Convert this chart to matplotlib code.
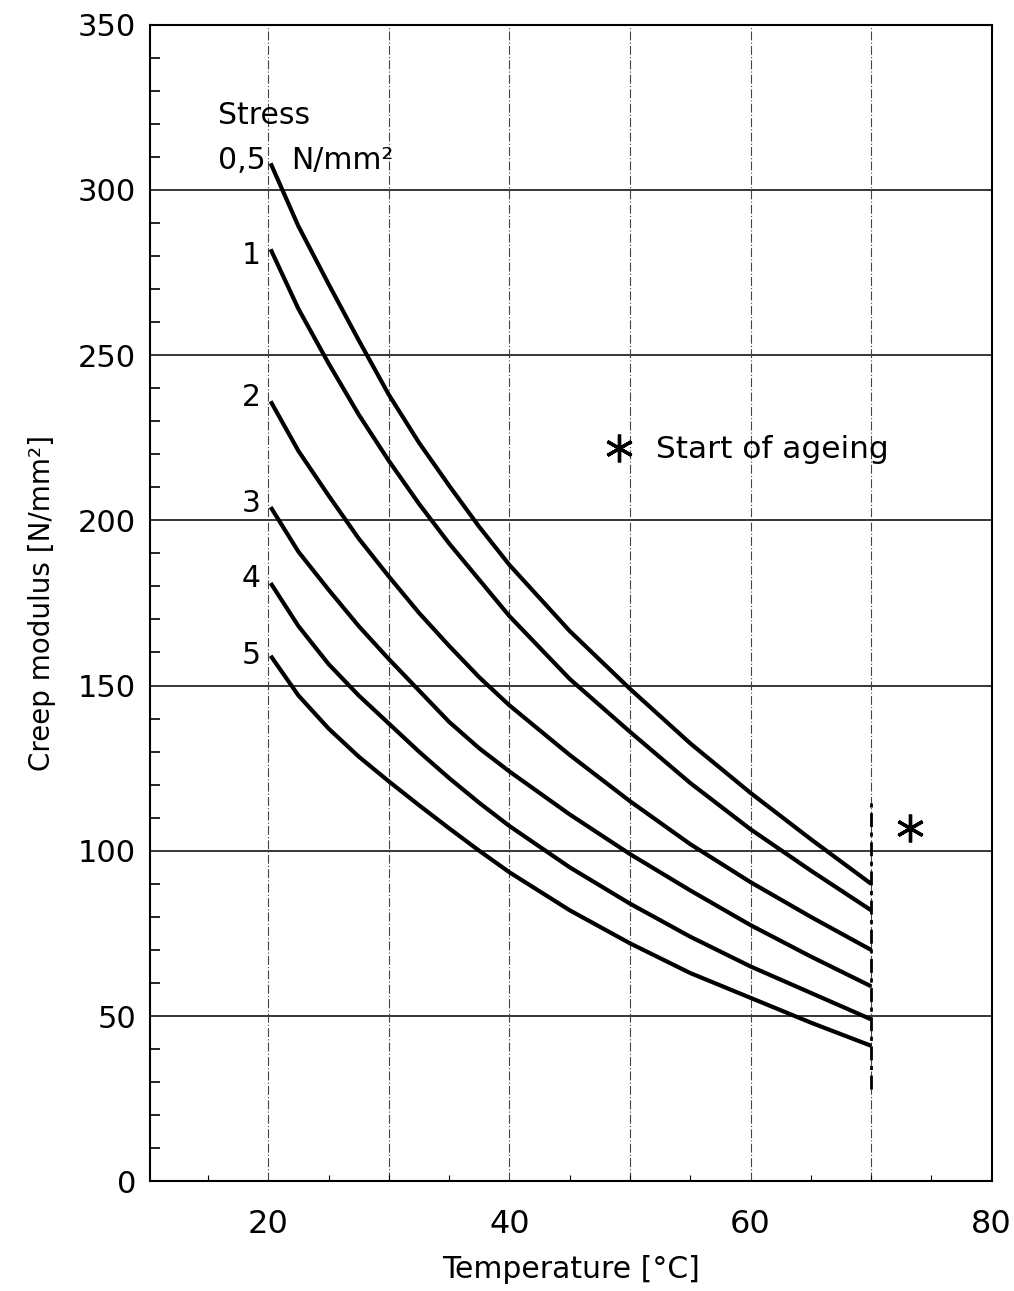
import matplotlib
matplotlib.use("Agg")
import matplotlib.pyplot as plt
from matplotlib.ticker import MultipleLocator

plt.rcParams['font.family'] = ['DejaVu Sans']

# ---- data ----
temperature = [20.2, 22.5, 25, 27.5, 30, 32.5, 35, 37.5, 40, 45, 50, 55, 60, 65, 70]
stress_labels = ["0,5", "1", "2", "3", "4", "5"]
modulus_05 = [308, 289, 271.5, 254.5, 238, 223.5, 210.5, 198, 186.5, 166.5, 149, 132.5, 117.5, 103.5, 90]
modulus_1 = [282, 264, 247.5, 232, 218, 205, 193, 182, 171, 152, 136, 120.5, 106.5, 94, 82]
modulus_2 = [236, 221, 207.5, 194.5, 183, 172, 162, 152.5, 144, 129, 115, 102, 90.5, 80, 70]
modulus_3 = [204, 190.5, 179, 168, 158, 148.5, 139, 131, 124, 111, 99, 88, 77.5, 68, 59]
modulus_4 = [181, 168, 156.5, 147, 138.5, 130, 122, 114.5, 107.5, 95, 84, 74, 65, 57, 49]
modulus_5 = [159, 147, 137, 128.5, 121, 113.8, 106.8, 100, 93.5, 82, 72, 63, 55.5, 48, 41]
modulus = [modulus_05, modulus_1, modulus_2, modulus_3, modulus_4, modulus_5]

ageing_temperature = 70
ageing_range = [28, 116]
y_ticks = [0, 50, 100, 150, 200, 250, 300, 350]
x_ticks = [20, 40, 60, 80]
x_grid = [20, 30, 40, 50, 60, 70]

fig = plt.figure(figsize=(10.14, 12.91), dpi=100)
ax = fig.add_axes([0.148, 0.085, 0.830, 0.896])

ax.set_xlim(10.2, 80)
ax.set_ylim(0, 350)

# grid lines
for yv in y_ticks[1:-1]:
    ax.axhline(yv, color='black', lw=1.1, zorder=1)
for xv in x_grid:
    ax.axvline(xv, color='#444444', lw=0.8, ls=(0, (8, 2, 1, 2)), zorder=1)

# curves
for series in modulus:
    ax.plot(temperature, series, color='black', lw=3.0,
            solid_capstyle='butt', solid_joinstyle='round', zorder=3)

# start-of-ageing line
ax.plot([ageing_temperature, ageing_temperature], ageing_range, color='black',
        lw=2.0, ls=(0, (5, 2, 1.5, 2)), zorder=3)

# curve labels
fs = 21.5
ax.text(15.8, 322.5, "Stress", fontsize=fs, va='center', ha='left')
ax.text(15.8, 309, "0,5", fontsize=fs, va='center', ha='left')
ax.text(21.9, 309, "N/mm²", fontsize=fs, va='center', ha='left')
label_y = {"1": 280, "2": 237, "3": 205, "4": 182.5, "5": 159}
for lab, yv in label_y.items():
    ax.text(19.4, yv, lab, fontsize=fs, va='center', ha='right')

# asterisks and legend text
ax.plot([49.1], [222], marker=(6, 2, 0), color='black', ms=20, mew=2.4,
        linestyle='none', zorder=4)
ax.text(52.2, 221.5, "Start of ageing", fontsize=22.5, va='center', ha='left')
ax.plot([73.2], [107], marker=(6, 2, 0), color='black', ms=20, mew=2.4,
        linestyle='none', zorder=4)

# ticks
ax.set_yticks(y_ticks)
ax.set_xticks(x_ticks)
ax.yaxis.set_minor_locator(MultipleLocator(10))
ax.xaxis.set_minor_locator(MultipleLocator(5))
ax.tick_params(axis='y', which='major', length=0, labelsize=22, pad=10)
ax.tick_params(axis='y', which='minor', direction='in', length=7, width=1.2)
ax.tick_params(axis='x', which='major', length=0, labelsize=23, pad=20)
ax.tick_params(axis='x', which='minor', direction='in', length=4, width=0.8)

ax.set_xlabel("Temperature [°C]", fontsize=21.5, labelpad=11)
ax.set_ylabel("Creep modulus [N/mm²]", fontsize=20, labelpad=16)

for s in ax.spines.values():
    s.set_linewidth(1.5)
    s.set_color('black')

fig.savefig("out.png", dpi=100, facecolor='white')
